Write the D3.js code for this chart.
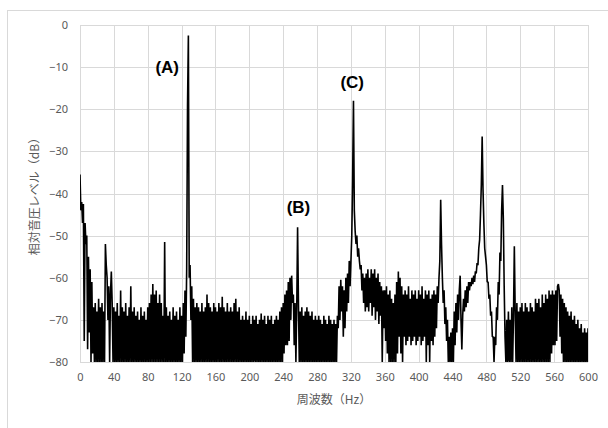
<!DOCTYPE html>
<html>
<head>
<meta charset="utf-8">
<script src="https://cdn.jsdelivr.net/npm/d3@7"></script>
<style>
  body { margin: 0; background: #fff; }
  svg { display: block; }
</style>
</head>
<body>
<div class="chart"></div>
<script>
// spectrum, 1 Hz steps from 0 Hz (dB, relative)
var level = [
  // 0-19
  -35.5, -44, -42, -47, -42.5, -75, -47, -52, -50, -77, -55, -73, -58, -80, -61, -78, -67, -80, -66, -80,
  // 20-39
  -68, -80, -65, -80, -67, -80, -66, -80, -68, -80, -52, -57, -60, -70, -62, -80, -64, -58.5, -66, -80,
  // 40-59
  -67, -80, -68, -80, -66, -80, -69, -80, -63, -80, -67, -80, -68, -80, -66, -80, -69, -80, -67, -80,
  // 60-79
  -62, -80, -68, -80, -67, -80, -69, -80, -68, -80, -70, -80, -67, -80, -69, -80, -68, -80, -70, -80,
  // 80-99
  -67, -80, -66, -80, -64, -80, -61.5, -80, -64, -80, -63, -80, -66, -80, -64, -80, -66, -80, -69, -80,
  // 100-119
  -51.5, -80, -67, -80, -69, -80, -68, -80, -70, -80, -67, -80, -69, -80, -68, -80, -70, -80, -67, -80,
  // 120-139
  -69, -80, -66, -78, -63, -74, -58, -19, -2.5, -60, -57, -70, -62, -80, -65, -80, -67, -80, -66, -80,
  // 140-159
  -67, -80, -68, -80, -66, -80, -68, -80, -67, -80, -64, -80, -66, -80, -67, -80, -68, -80, -66, -80,
  // 160-179
  -67, -80, -68, -80, -66, -80, -67, -80, -64.5, -80, -67, -80, -68, -80, -66, -80, -68, -80, -67, -80,
  // 180-199
  -68, -80, -66, -80, -65, -80, -68, -80, -67, -80, -70, -80, -69, -80, -70, -80, -68, -80, -70, -80,
  // 200-219
  -69, -80, -71, -80, -69, -80, -70, -80, -69, -80, -71, -80, -70, -80, -68.5, -80, -70, -80, -69, -80,
  // 220-239
  -71, -80, -69, -80, -70, -80, -69, -80, -71, -80, -70, -80, -69, -80, -70, -80, -68, -80, -67, -80,
  // 240-259
  -66, -78, -64, -76, -63, -76, -61, -75, -60, -70, -59.5, -66, -64, -76, -66, -80, -67, -48, -66, -80,
  // 260-279
  -68, -80, -67, -80, -69, -80, -68, -80, -67, -80, -68, -80, -69, -80, -68, -80, -70, -80, -69, -80,
  // 280-299
  -70, -80, -69, -80, -70, -80, -71, -80, -69, -80, -70, -80, -71, -80, -69, -80, -70, -80, -71, -80,
  // 300-319
  -70, -80, -71, -80, -69, -72, -62, -70, -60.5, -68, -62, -74, -63, -72, -60, -68, -59, -66, -56, -62,
  // 320-339
  -56, -50, -37, -18, -44, -49, -52, -50, -55, -53, -56, -58, -57, -63, -59, -66, -60, -68, -59, -67,
  // 340-359
  -58, -68, -60, -66, -58, -69, -59, -67, -58, -70, -60, -68, -59, -71, -61, -69, -62, -80, -63, -72,
  // 360-379
  -63, -75, -62, -78, -64, -80, -63, -80, -65, -80, -66, -80, -64, -80, -61, -78, -58.5, -74, -60, -78,
  // 380-399
  -62, -80, -64, -74, -63, -76, -64, -75, -62, -74, -65, -76, -63, -75, -64, -74, -63, -76, -65, -75,
  // 400-419
  -63, -74, -64, -76, -62, -75, -65, -74, -63, -80, -64, -76, -63, -80, -65, -75, -64, -76, -63, -74,
  // 420-439
  -64, -72, -62, -66, -60, -56, -41.5, -52, -60, -66, -63, -71, -67, -75, -70, -80, -74, -80, -73, -80,
  // 440-459
  -72, -80, -68, -76, -66, -73, -64, -70, -63, -59.5, -70, -77, -69, -65, -68, -63, -67, -62, -66, -61,
  // 460-479
  -63, -61, -62, -60, -61.5, -59.5, -61, -58.5, -59, -56.5, -57, -53, -51, -45, -38, -26.5, -39, -47, -53, -55,
  // 480-499
  -57, -61, -61, -65, -64, -69, -68, -74, -74, -80, -74, -76, -67, -70, -61, -64, -54, -56, -44, -38,
  // 500-519
  -46, -62, -74, -80, -70, -80, -68, -80, -70, -80, -67, -80, -69, -52.5, -68, -80, -66, -80, -68, -80,
  // 520-539
  -67, -80, -66, -80, -68, -80, -66, -80, -67, -80, -68, -80, -66, -80, -67, -80, -68, -80, -65, -80,
  // 540-559
  -66, -80, -65, -80, -67, -80, -64, -80, -66, -80, -64, -80, -65, -80, -63, -80, -64, -78, -63, -76,
  // 560-579
  -64, -76, -63, -75, -62, -61.5, -63, -74, -64, -78, -65, -80, -66, -80, -67, -80, -68, -80, -69, -80,
  // 580-600
  -68, -80, -70, -80, -69, -80, -71, -80, -70, -80, -72, -80, -71, -80, -73, -80, -72, -80, -73, -80, -72
];

var xTicks = [0, 40, 80, 120, 160, 200, 240, 280, 320, 360, 400, 440, 480, 520, 560, 600];
var yTicks = [0, -10, -20, -30, -40, -50, -60, -70, -80];

var peakNames = ['(A)', '(B)', '(C)'];
var peakLabelHz = [103, 258, 321.5];
var peakLabelDb = [-10, -43.1, -13.5];

var width = 608;
var height = 428;
var margin = {top: 25, right: 20, bottom: 66, left: 80};

var svg = d3.select('.chart').append('svg')
  .attr('width', width)
  .attr('height', height);

// outer chart frame
svg.append('rect')
  .attr('x', 7.5)
  .attr('y', 10.5)
  .attr('width', 620)
  .attr('height', 440)
  .attr('fill', 'none')
  .attr('stroke', '#d9d9d9');

var x = d3.scaleLinear().domain([0, 600]).range([margin.left, width - margin.right]);
var y = d3.scaleLinear().domain([-80, 0]).range([height - margin.bottom, margin.top]);

// grid
svg.append('g')
  .selectAll('line')
  .data(xTicks)
  .enter().append('line')
    .attr('x1', d => Math.round(x(d)) + 0.5)
    .attr('x2', d => Math.round(x(d)) + 0.5)
    .attr('y1', y(0))
    .attr('y2', y(-80))
    .attr('stroke', '#d9d9d9');

svg.append('g')
  .selectAll('line')
  .data(yTicks)
  .enter().append('line')
    .attr('x1', x(0))
    .attr('x2', x(600))
    .attr('y1', d => Math.round(y(d)) + 0.5)
    .attr('y2', d => Math.round(y(d)) + 0.5)
    .attr('stroke', '#d9d9d9');

// axes (labels only)
var xAxis = svg.append('g')
  .attr('transform', `translate(0, ${y(-80)})`)
  .call(d3.axisBottom(x).tickValues(xTicks).tickSize(0).tickPadding(11));

var yAxis = svg.append('g')
  .attr('transform', `translate(${x(0)}, 0)`)
  .call(d3.axisLeft(y).tickValues(yTicks).tickSize(0).tickPadding(12));

[xAxis, yAxis].forEach(function(a) {
  a.select('.domain').remove();
  a.selectAll('text')
    .attr('fill', '#595959')
    .style('font-size', '11px')
    .attr('font-family', 'Noto Sans, sans-serif');
});

// spectrum line
svg.append('clipPath')
  .attr('id', 'plot')
  .append('rect')
    .attr('x', x(0))
    .attr('y', y(0))
    .attr('width', x(600) - x(0))
    .attr('height', y(-80) - y(0));

var line = d3.line()
  .x((d, i) => x(i))
  .y(d => y(d));

svg.append('path')
  .datum(level)
  .attr('clip-path', 'url(#plot)')
  .attr('fill', 'none')
  .attr('stroke', '#000')
  .attr('stroke-width', 1.6)
  .attr('stroke-linejoin', 'bevel')
  .attr('d', line);

// peak labels
svg.append('g')
  .selectAll('text')
  .data(peakNames)
  .enter().append('text')
    .attr('x', (d, i) => x(peakLabelHz[i]))
    .attr('y', (d, i) => y(peakLabelDb[i]))
    .attr('dy', '0.35em')
    .attr('text-anchor', 'middle')
    .attr('font-family', 'Liberation Sans, Arial, sans-serif')
    .style('font-weight', 'bold')
    .style('font-size', '17px')
    .text(d => d);

// axis titles
svg.append('text')
  .attr('x', (x(0) + x(600)) / 2)
  .attr('y', 400)
  .attr('dy', '0.35em')
  .attr('text-anchor', 'middle')
  .attr('fill', '#595959')
  .attr('font-family', 'Noto Sans CJK JP, sans-serif')
  .style('font-size', '12px')
  .text('周波数（Hz）');

svg.append('text')
  .attr('transform', `translate(35, ${(y(0) + y(-80)) / 2}) rotate(-90)`)
  .attr('dy', '0.35em')
  .attr('text-anchor', 'middle')
  .attr('fill', '#595959')
  .attr('font-family', 'Noto Sans CJK JP, sans-serif')
  .style('font-size', '12px')
  .text('相対音圧レベル（dB）');
</script>
</body>
</html>
